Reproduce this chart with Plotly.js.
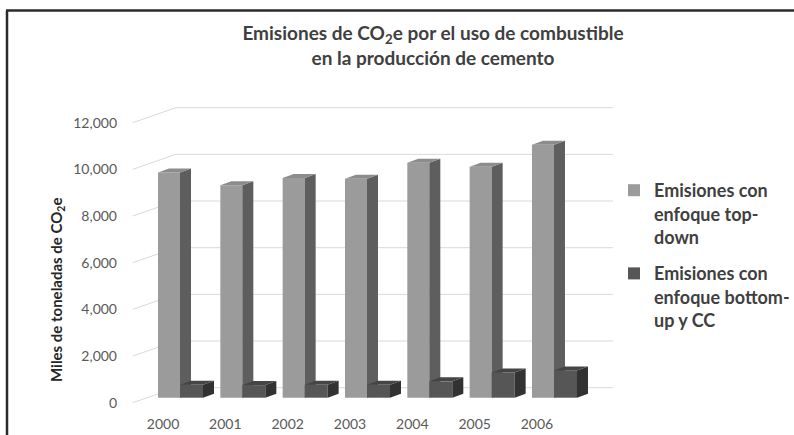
<!DOCTYPE html>
<html><head><meta charset="utf-8">
<script src="https://cdn.plot.ly/plotly-3.0.1.min.js"></script>
<style>html,body{margin:0;padding:0;background:#fff;}#chart{width:794px;height:435px;}</style>
</head><body><div id="chart"></div>
<script>
// ---- data ----
const years = ['2000','2001','2002','2003','2004','2005','2006'];
const topDown = [9650, 9100, 9420, 9380, 10070, 9900, 10840];
const bottomUp = [550, 540, 550, 550, 700, 1080, 1170];
const yTicks = [0, 2000, 4000, 6000, 8000, 10000, 12000];
const yTickLabels = ['0', '2,000', '4,000', '6,000', '8,000', '10,000', '12,000'];
const seriesNames = ['Emisiones con<br>enfoque top-<br>down', 'Emisiones con<br>enfoque bottom-<br>up y CC'];
const titleText = 'Emisiones de CO<sub>2</sub>e por el uso de combustible<br>en la producción de cemento';
const yTitleText = 'Miles de toneladas de CO<sub>2</sub>e';

// ---- geometry (pixels) ----
const W = 794, H = 435;
const plotL = 120, plotR = 620, plotT = 100, plotB = 410;
const cat0Px = 180, catPx = 62.33;
const basePx = 397.7, pxPerUnit = 280 / 12000;
const frontDx = -16, frontDy = 5, backDx = 27, backDy = -10, depthDx = 11, depthDy = -4;
const backRightPx = 613, labelShiftPx = -17;
const tdW = 22 / catPx, buW = 23 / catPx;

const dxU = px => px / catPx;
const dyU = px => -px / pxPerUnit;
const xr = [(plotL - cat0Px) / catPx, (plotR - cat0Px) / catPx];
const yr = [(basePx - plotB) / pxPerUnit, (basePx - plotT) / pxPerUnit];
const x2r = [xr[0] - dxU(labelShiftPx), xr[1] - dxU(labelShiftPx)];
const y2r = [yr[0] - dyU(frontDy), yr[1] - dyU(frontDy)];
const px2paperX = px => (px - plotL) / (plotR - plotL);
const px2paperY = py => (plotB - py) / (plotB - plotT);
const idx = years.map((_, i) => i);

const F = 'Lato, "Open Sans", sans-serif';
const COL = {
  td: {front: '#9b9b9b', side: '#5e5e5e', top: '#8c8c8c'},
  bu: {front: '#565656', side: '#323232', top: '#454545'}
};

function faces(vals, left, width) {
  const ddx = dxU(depthDx), ddy = dyU(depthDy);
  const side = {x: [], y: []}, top = {x: [], y: []};
  vals.forEach((v, i) => {
    const xl = i + left, xrr = i + left + width;
    side.x.push(xrr, xrr, xrr + ddx, xrr + ddx, xrr, null);
    side.y.push(0, v, v + ddy, ddy, 0, null);
    top.x.push(xl, xrr, xrr + ddx, xl + ddx, xl, null);
    top.y.push(v, v, v + ddy, v + ddy, v, null);
  });
  return {side, top};
}

function seriesTraces(vals, name, col, left, width, xa, ya, grp) {
  const f = faces(vals, left, width);
  return [
    {type: 'bar', x: idx, y: vals, name: name, width: width, offset: left, legendgroup: grp,
     marker: {color: col.front, line: {width: 0}}, xaxis: xa, yaxis: ya, hoverinfo: 'skip'},
    {type: 'scatter', mode: 'none', x: f.side.x, y: f.side.y, fill: 'toself', fillcolor: col.side,
     showlegend: false, legendgroup: grp, xaxis: xa, yaxis: ya, hoverinfo: 'skip'},
    {type: 'scatter', mode: 'none', x: f.top.x, y: f.top.y, fill: 'toself', fillcolor: col.top,
     showlegend: false, legendgroup: grp, xaxis: xa, yaxis: ya, hoverinfo: 'skip'}
  ];
}

const traces = [
  ...seriesTraces(topDown, seriesNames[0], COL.td, -tdW, tdW, 'x', 'y', 'g1'),
  {type: 'scatter', x: [null], y: [null], xaxis: 'x2', yaxis: 'y2', showlegend: false, hoverinfo: 'skip'},
  ...seriesTraces(bottomUp, seriesNames[1], COL.bu, 0, buW, 'x3', 'y3', 'g2')
];

// gridlines on back wall + depth ticks
const shapes = [];
const xBackL = -0.5 + dxU(backDx), xFrontL = -0.5 + dxU(frontDx);
const xBackR = (backRightPx - cat0Px) / catPx;
yTicks.forEach(v => {
  const yb = v + dyU(backDy), yf = v + dyU(frontDy);
  shapes.push({type: 'line', xref: 'x', yref: 'y', x0: xBackL, x1: xBackR, y0: yb, y1: yb,
    line: {color: '#d9d9d9', width: 1}, layer: 'below'});
  shapes.push({type: 'line', xref: 'x', yref: 'y', x0: xFrontL, x1: xBackL, y0: yf, y1: yb,
    line: {color: '#d9d9d9', width: 1}, layer: 'below'});
});
// outer frame (left and top)
shapes.push({type: 'line', xref: 'paper', yref: 'paper', x0: px2paperX(7), x1: px2paperX(7),
  y0: px2paperY(10.5), y1: px2paperY(440), line: {color: '#2b2b2b', width: 2.5}});
shapes.push({type: 'line', xref: 'paper', yref: 'paper', x0: px2paperX(6), x1: px2paperX(800),
  y0: px2paperY(10.5), y1: px2paperY(10.5), line: {color: '#2b2b2b', width: 2.5}});

const hidden = {visible: true, showgrid: false, zeroline: false, showticklabels: false, showline: false, ticks: '', fixedrange: true};

const layout = {
  width: W, height: H,
  margin: {l: plotL, r: W - plotR, t: plotT, b: H - plotB, autoexpand: false},
  paper_bgcolor: '#ffffff', plot_bgcolor: 'rgba(0,0,0,0)',
  showlegend: true,
  title: {text: titleText, x: 433 / W, xref: 'container', xanchor: 'center',
    y: 1 - 40 / H, yref: 'container', yanchor: 'middle',
    font: {family: F, size: 19, weight: 'bold', color: '#404040'}},
  xaxis: Object.assign({}, hidden, {range: xr}),
  yaxis: Object.assign({}, hidden, {range: yr}),
  xaxis3: Object.assign({}, hidden, {range: xr, overlaying: 'x'}),
  yaxis3: Object.assign({}, hidden, {range: yr, overlaying: 'y'}),
  xaxis2: {range: x2r, overlaying: 'x', anchor: 'y2', side: 'bottom', tickmode: 'array', tickvals: idx, ticktext: years,
    showgrid: false, zeroline: false, showline: false, ticks: '', ticklabelstandoff: 4,
    tickfont: {family: F, size: 14, color: '#595959'}, fixedrange: true},
  yaxis2: {range: y2r, overlaying: 'y', anchor: 'x2', side: 'left', tickmode: 'array', tickvals: yTicks, ticktext: yTickLabels,
    showgrid: false, zeroline: false, showline: false, ticks: '', ticklabelstandoff: 2,
    tickfont: {family: F, size: 14, color: '#595959'}, fixedrange: true},
  legend: {x: px2paperX(614), xanchor: 'left', y: px2paperY(172), yanchor: 'top', valign: 'top',
    bgcolor: 'rgba(0,0,0,0)', traceorder: 'grouped', tracegroupgap: 10,
    font: {family: F, size: 18, weight: 'bold', color: '#404040'}},
  annotations: [{text: yTitleText, textangle: -90, xref: 'paper', yref: 'paper',
    x: px2paperX(57), y: px2paperY(290), xanchor: 'center', yanchor: 'middle', showarrow: false,
    font: {family: F, size: 15, weight: 'bold', color: '#262626'}}],
  shapes: shapes
};

Plotly.newPlot('chart', traces, layout, {displayModeBar: false, staticPlot: true});
</script>
</body></html>
